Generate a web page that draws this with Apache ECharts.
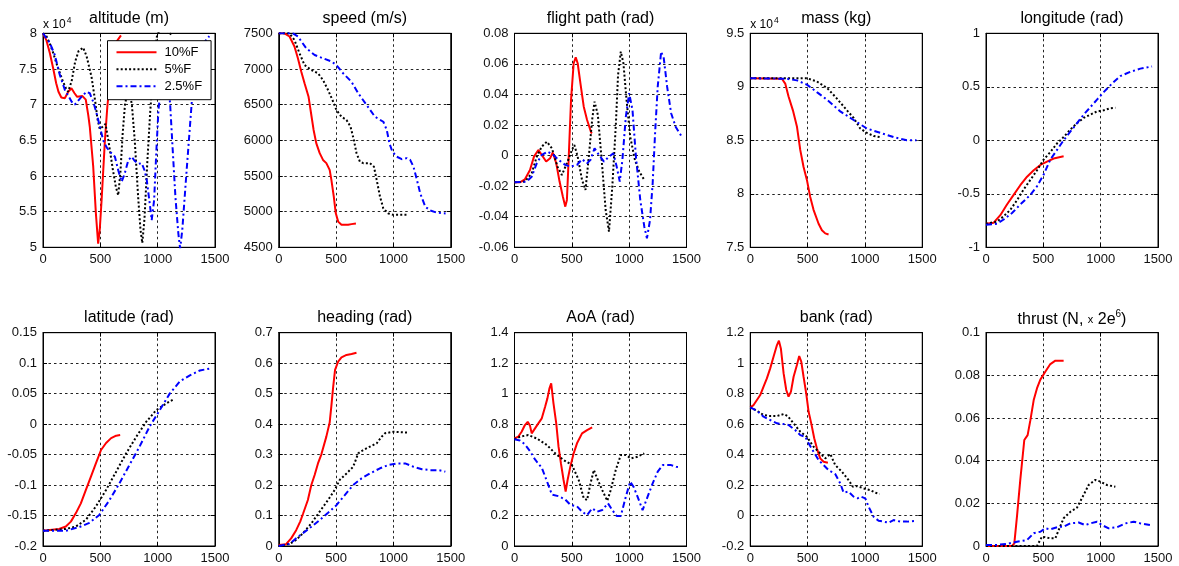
<!DOCTYPE html>
<html>
<head>
<meta charset="utf-8">
<script src="https://cdn.jsdelivr.net/npm/echarts@6/dist/echarts.min.js"></script>
<style>
html,body{margin:0;padding:0;background:#fff;}
#chart{width:1179px;height:566px;}
</style>
</head>
<body>
<div id="chart"></div>
<script>
// ---------------- DATA ----------------
const seriesNames = ['10%F', '5%F', '2.5%F'];
const xTicks = {min: 0, max: 1500, interval: 500};

// altitude (m)
const altRed = [[0,80000],[30,79000],[60,77200],[90,75000],[115,73000],[135,71800],[160,71000],[190,70900],[220,71800],[248,72300],[275,71600],[298,71100],[344,71200],[373,70700],[395,68500],[408,66900],[438,61300],[461,54800],[481,50500],[495,52500],[511,56600],[540,65000],[561,69700],[600,76000],[640,78800],[680,79700]];
const altBlack = [[0,80000],[30,79600],[58,78600],[90,77200],[117,75800],[150,74300],[175,73200],[200,72300],[219,71800],[250,73300],[280,76000],[310,77500],[350,78000],[380,76800],[423,73900],[455,70500],[475,68000],[495,66600],[520,66900],[545,67300],[575,64500],[610,60800],[635,58500],[656,57300],[675,60500],[695,66000],[715,70000],[745,72500],[775,70000],[800,65000],[830,57000],[850,52500],[866,50600],[885,54000],[910,62000],[935,69000],[965,75500],[995,79800],[1040,80800],[1090,80300],[1130,79600]];
const altBlue = [[0,80000],[30,79300],[58,78700],[102,77000],[146,74200],[190,72100],[219,71300],[250,70400],[277,70000],[305,70500],[335,71100],[379,71800],[408,71600],[440,70300],[467,68800],[495,67000],[525,65000],[555,64000],[584,63400],[627,62700],[656,60800],[686,59200],[710,60200],[744,62200],[773,62700],[800,62100],[835,61700],[861,61800],[885,60800],[905,59400],[928,56500],[948,53800],[969,56600],[990,64000],[1007,69300],[1036,73500],[1065,75500],[1090,73500],[1109,70000],[1130,64000],[1155,57000],[1180,52000],[1196,49800],[1215,52500],[1255,61300],[1299,70700],[1342,76300],[1400,78600],[1450,79600]];

// speed (m/s)
const spdRed = [[0,7500],[50,7500],[94,7455],[137,7315],[167,7150],[196,6965],[225,6800],[260,6610],[284,6355],[304,6145],[327,5960],[357,5820],[386,5725],[415,5680],[444,5585],[459,5445],[480,5210],[497,4980],[518,4860],[547,4815],[605,4815],[634,4825],[673,4835]];
const spdBlack = [[0,7500],[94,7500],[137,7405],[181,7220],[225,7055],[284,6985],[342,6940],[386,6845],[430,6705],[468,6565],[503,6425],[547,6330],[591,6285],[626,6190],[655,6005],[678,5820],[708,5700],[737,5680],[795,5680],[830,5630],[854,5445],[883,5210],[912,5045],[956,4975],[1000,4955],[1058,4955],[1132,4955]];
const spdBlue = [[0,7500],[123,7500],[167,7455],[240,7290],[313,7195],[386,7150],[459,7105],[503,7055],[561,6940],[635,6820],[693,6660],[766,6495],[839,6330],[912,6260],[942,6145],[965,5960],[991,5840],[1029,5770],[1073,5735],[1117,5750],[1146,5725],[1175,5630],[1205,5445],[1234,5255],[1278,5070],[1322,5015],[1380,4985],[1455,4975]];

// flight path (rad)
const fpRed = [[0,-0.0175],[47,-0.0175],[91,-0.0155],[135,-0.0094],[170,-0.0007],[208,0.0037],[238,0.0004],[276,-0.0039],[311,-0.0017],[334,0.002],[364,-0.005],[393,-0.017],[422,-0.0269],[443,-0.0334],[457,-0.029],[472,-0.0028],[493,0.0364],[516,0.0604],[534,0.0643],[551,0.0604],[575,0.0473],[604,0.032],[633,0.0233],[669,0.015],[677,0.0146]];
const fpBlack = [[0,-0.0175],[91,-0.017],[150,-0.0116],[194,-0.0007],[238,0.0059],[282,0.0091],[326,0.0048],[375,-0.0072],[413,-0.0127],[457,-0.005],[501,0.0037],[522,0.0069],[551,-0.0007],[589,-0.016],[619,-0.0225],[648,-0.0007],[677,0.0233],[698,0.0353],[727,0.0266],[765,-0.0072],[795,-0.0356],[824,-0.0498],[853,-0.0203],[883,0.0189],[903,0.0527],[927,0.068],[950,0.0604],[977,0.0364],[1009,0.0124],[1050,-0.0028],[1088,-0.0105],[1132,-0.0159]];
const fpBlue = [[0,-0.0175],[106,-0.017],[150,-0.0138],[194,-0.0051],[238,0.0004],[287,0.0026],[340,0.0004],[384,-0.0028],[443,-0.0061],[487,-0.0072],[545,-0.0061],[589,-0.0024],[633,-0.005],[663,-0.0028],[698,0.0048],[736,0.0004],[780,-0.0039],[824,-0.0007],[862,0.0015],[891,-0.0072],[918,-0.017],[941,-0.0028],[971,0.0255],[1000,0.0408],[1029,0.0298],[1059,-0.0007],[1097,-0.0291],[1132,-0.0465],[1155,-0.0541],[1182,-0.0421],[1205,-0.0181],[1226,0.0146],[1249,0.0451],[1279,0.068],[1302,0.0636],[1331,0.0451],[1366,0.0277],[1405,0.0189],[1430,0.0157],[1455,0.0128]];

// mass (kg)
const massRed = [[0,90800],[276,90750],[305,90300],[334,89100],[372,87800],[407,86300],[436,84100],[465,82500],[494,81300],[523,79700],[552,78500],[596,77200],[625,76600],[654,76300],[683,76200]];
const massBlack = [[0,90800],[494,90800],[581,90500],[669,89900],[756,88900],[843,87800],[901,87100],[959,86100],[1017,85700],[1076,85400],[1134,85300]];
const massBlue = [[0,90800],[320,90750],[407,90600],[494,90200],[581,89500],[669,88800],[785,87700],[901,86900],[1017,86100],[1134,85700],[1250,85300],[1366,85000],[1450,85000]];

// longitude (rad)
const lonRed = [[0,-0.78],[67,-0.77],[125,-0.70],[183,-0.60],[241,-0.51],[299,-0.42],[358,-0.34],[416,-0.28],[474,-0.23],[532,-0.20],[590,-0.17],[677,-0.15]];
const lonBlack = [[0,-0.78],[96,-0.76],[154,-0.71],[212,-0.65],[270,-0.56],[328,-0.46],[387,-0.37],[445,-0.28],[503,-0.18],[561,-0.11],[619,-0.03],[677,0.03],[735,0.10],[794,0.16],[852,0.21],[910,0.24],[968,0.27],[1026,0.28],[1084,0.30],[1128,0.305]];
const lonBlue = [[0,-0.79],[96,-0.78],[154,-0.74],[227,-0.68],[299,-0.60],[387,-0.51],[445,-0.43],[503,-0.32],[561,-0.18],[619,-0.09],[677,0.00],[735,0.08],[794,0.16],[852,0.24],[910,0.31],[968,0.38],[1026,0.45],[1099,0.53],[1172,0.60],[1259,0.64],[1346,0.67],[1448,0.69]];

// latitude (rad)
const latRed = [[0,-0.175],[140,-0.172],[199,-0.168],[243,-0.160],[287,-0.146],[330,-0.130],[374,-0.108],[418,-0.086],[462,-0.064],[506,-0.0425],[550,-0.031],[594,-0.023],[638,-0.019],[673,-0.018]];
const latBlack = [[0,-0.175],[199,-0.172],[287,-0.168],[374,-0.157],[462,-0.135],[550,-0.108],[638,-0.078],[725,-0.048],[813,-0.021],[901,0.004],[988,0.023],[1076,0.034],[1134,0.040]];
const latBlue = [[0,-0.175],[199,-0.175],[316,-0.169],[404,-0.162],[491,-0.149],[579,-0.125],[667,-0.097],[754,-0.067],[842,-0.037],[930,-0.004],[1018,0.023],[1105,0.050],[1193,0.070],[1281,0.080],[1368,0.088],[1450,0.091]];

// heading (rad)
const hdgRed = [[0,0.003],[64,0.006],[108,0.025],[152,0.052],[187,0.08],[211,0.105],[254,0.151],[284,0.2],[313,0.233],[342,0.271],[371,0.3],[415,0.359],[444,0.405],[459,0.46],[474,0.52],[491,0.578],[518,0.605],[547,0.619],[591,0.627],[635,0.63],[678,0.634]];
const hdgBlack = [[0,0],[94,0.007],[152,0.02],[211,0.042],[284,0.074],[357,0.113],[430,0.151],[488,0.184],[532,0.217],[591,0.238],[649,0.26],[693,0.304],[737,0.315],[795,0.326],[854,0.337],[898,0.359],[927,0.37],[1000,0.375],[1137,0.372]];
const hdgBlue = [[0,0],[94,0.007],[152,0.025],[211,0.042],[284,0.063],[357,0.085],[430,0.109],[503,0.134],[576,0.167],[649,0.2],[722,0.222],[795,0.238],[883,0.255],[956,0.266],[1029,0.271],[1102,0.271],[1175,0.26],[1249,0.252],[1322,0.249],[1395,0.249],[1453,0.244]];

// AoA (rad)
const aoaRed = [[0,0.706],[32,0.717],[62,0.75],[91,0.794],[115,0.815],[135,0.79],[150,0.739],[179,0.772],[208,0.805],[238,0.838],[267,0.914],[287,0.969],[305,1.035],[320,1.067],[340,0.936],[364,0.805],[384,0.652],[405,0.542],[428,0.433],[446,0.357],[463,0.433],[487,0.521],[516,0.608],[545,0.674],[589,0.739],[633,0.761],[677,0.779]];
const aoaBlack = [[0,0.7],[47,0.717],[120,0.728],[194,0.706],[282,0.663],[355,0.608],[428,0.564],[501,0.532],[560,0.433],[604,0.313],[633,0.302],[663,0.411],[692,0.499],[721,0.444],[765,0.367],[809,0.297],[839,0.367],[883,0.499],[927,0.597],[971,0.597],[1015,0.575],[1073,0.586],[1132,0.608]];
const aoaBlue = [[0,0.7],[47,0.693],[91,0.667],[135,0.623],[179,0.568],[238,0.513],[282,0.427],[326,0.338],[384,0.327],[443,0.305],[487,0.27],[545,0.26],[589,0.225],[633,0.203],[677,0.247],[721,0.225],[765,0.236],[815,0.28],[853,0.236],[891,0.197],[927,0.197],[971,0.324],[1009,0.422],[1038,0.389],[1073,0.324],[1117,0.236],[1161,0.324],[1205,0.411],[1249,0.488],[1293,0.531],[1366,0.531],[1410,0.52],[1450,0.517]];

// bank (rad)
const bankRed = [[0,0.71],[29,0.725],[58,0.758],[87,0.791],[116,0.846],[145,0.9],[174,0.966],[203,1.042],[233,1.119],[250,1.147],[267,1.097],[291,0.933],[314,0.824],[334,0.78],[355,0.813],[378,0.911],[407,0.988],[427,1.047],[445,1.01],[465,0.911],[488,0.802],[509,0.681],[532,0.605],[558,0.507],[581,0.441],[610,0.375],[640,0.353],[677,0.347]];
const bankBlack = [[0,0.71],[58,0.688],[116,0.66],[174,0.653],[233,0.653],[291,0.666],[326,0.653],[378,0.605],[436,0.55],[494,0.517],[552,0.452],[610,0.408],[654,0.375],[698,0.404],[741,0.331],[799,0.288],[857,0.233],[895,0.189],[930,0.194],[988,0.178],[1047,0.167],[1090,0.15],[1128,0.141]];
const bankBlue = [[0,0.71],[58,0.688],[116,0.649],[174,0.627],[233,0.605],[291,0.6],[334,0.594],[392,0.561],[436,0.528],[480,0.517],[509,0.474],[552,0.419],[596,0.364],[640,0.331],[683,0.298],[741,0.272],[785,0.211],[814,0.15],[857,0.157],[901,0.124],[936,0.113],[965,0.124],[1003,0.113],[1032,0.058],[1076,-0.008],[1119,-0.034],[1163,-0.04],[1206,-0.047],[1250,-0.03],[1308,-0.04],[1366,-0.04],[1450,-0.034]];

// thrust (N, x 2e6)
const thrRed = [[0,0],[227,0],[247,0.0012],[270,0.0138],[299,0.031],[334,0.0497],[363,0.052],[387,0.059],[416,0.0684],[445,0.074],[474,0.078],[517,0.0817],[561,0.0853],[605,0.0869],[677,0.0869]];
const thrBlack = [[0,0],[445,0],[488,0.0044],[503,0.0036],[561,0.0036],[605,0.0036],[634,0.0075],[677,0.013],[735,0.016],[794,0.018],[852,0.024],[895,0.0286],[954,0.031],[997,0.0302],[1055,0.0286],[1128,0.0278]];
const thrBlue = [[0,0.0005],[96,0.0005],[183,0.001],[270,0.002],[358,0.0028],[416,0.006],[474,0.0067],[517,0.0083],[561,0.0078],[634,0.009],[677,0.009],[735,0.0106],[808,0.011],[866,0.0098],[910,0.0106],[968,0.0114],[1012,0.0098],[1070,0.0083],[1142,0.0088],[1215,0.0106],[1288,0.0114],[1346,0.0106],[1433,0.0098],[1450,0.0097]];

const panels = [
  {title: 'altitude (m)', min: 50000, max: 80000, interval: 5000, exp: true, data: [altRed, altBlack, altBlue]},
  {title: 'speed (m/s)', min: 4500, max: 7500, interval: 500, data: [spdRed, spdBlack, spdBlue]},
  {title: 'flight path (rad)', min: -0.06, max: 0.08, interval: 0.02, data: [fpRed, fpBlack, fpBlue]},
  {title: 'mass (kg)', min: 75000, max: 95000, interval: 5000, exp: true, data: [massRed, massBlack, massBlue]},
  {title: 'longitude (rad)', min: -1, max: 1, interval: 0.5, data: [lonRed, lonBlack, lonBlue]},
  {title: 'latitude (rad)', min: -0.2, max: 0.15, interval: 0.05, data: [latRed, latBlack, latBlue]},
  {title: 'heading (rad)', min: 0, max: 0.7, interval: 0.1, data: [hdgRed, hdgBlack, hdgBlue]},
  {title: 'AoA (rad)', min: 0, max: 1.4, interval: 0.2, data: [aoaRed, aoaBlack, aoaBlue]},
  {title: 'bank (rad)', min: -0.2, max: 1.2, interval: 0.2, data: [bankRed, bankBlack, bankBlue]},
  {title: 'thrust', min: 0, max: 0.1, interval: 0.02, rich: true, data: [thrRed, thrBlack, thrBlue]}
];

// ---------------- STYLE / LAYOUT ----------------
const FONT = 'Liberation Sans, Arial, Helvetica, sans-serif';
const lineStyles = [
  {color: '#ff0000', width: 2, type: 'solid'},
  {color: '#000000', width: 2, type: [2, 2.2]},
  {color: '#0000ff', width: 2, type: [6, 3, 2, 3]}
];
const colLeft = [43, 278.75, 514.5, 750.25, 986];
const rowTop = [33.3, 332.7];
const rowH = [214, 213.3];
const W = 172;

const plain = v => String(parseFloat(Number(v).toPrecision(10)));
const grids = [], xAxes = [], yAxes = [], series = [], titles = [];

panels.forEach((p, i) => {
  const r = Math.floor(i / 5), c = i % 5;
  const L = colLeft[c], T = rowTop[r], H = rowH[r];
  grids.push({left: L, top: T, width: W, height: H, show: true, borderColor: '#000', borderWidth: 1, backgroundColor: '#fff'});
  const tick = {show: true, inside: true, length: 4, lineStyle: {color: '#000', width: 1}};
  const line = {show: true, onZero: false, lineStyle: {color: '#000', width: 1}};
  const split = {show: true, lineStyle: {color: '#222', width: 1, type: [2.5, 3]}};
  xAxes.push({gridIndex: i, type: 'value', position: 'bottom', min: xTicks.min, max: xTicks.max, interval: xTicks.interval,
    axisLine: line, axisTick: tick, splitLine: split,
    axisLabel: {margin: 6, fontSize: 13, color: '#111', fontFamily: FONT, formatter: plain}});
  xAxes.push({gridIndex: i, type: 'value', position: 'top', min: xTicks.min, max: xTicks.max, interval: xTicks.interval,
    axisLine: line, axisTick: tick, splitLine: {show: false}, axisLabel: {show: false}});
  const fmt = p.exp ? (v => plain(v / 10000)) : plain;
  yAxes.push({gridIndex: i, type: 'value', position: 'left', min: p.min, max: p.max, interval: p.interval,
    axisLine: line, axisTick: tick, splitLine: split,
    axisLabel: {margin: 6, fontSize: 13, color: '#111', fontFamily: FONT, formatter: fmt}});
  yAxes.push({gridIndex: i, type: 'value', position: 'right', min: p.min, max: p.max, interval: p.interval,
    axisLine: line, axisTick: tick, splitLine: {show: false}, axisLabel: {show: false}});

  p.data.forEach((d, k) => {
    series.push({type: 'line', name: seriesNames[k], xAxisIndex: 2 * i, yAxisIndex: 2 * i,
      data: d, symbol: 'none', showSymbol: false, lineStyle: lineStyles[k], itemStyle: {color: lineStyles[k].color},
      clip: true, animation: false, silent: true});
  });

  const tStyle = {fontSize: 16, fontWeight: 'normal', color: '#000', fontFamily: FONT};
  if (p.rich) {
    titles.push({text: 'thrust (N, {s|x} 2e{sup|6})', left: L + W / 2, top: T - 23, textAlign: 'center', padding: 0,
      textStyle: Object.assign({}, tStyle, {rich: {
        s: {fontSize: 11, fontWeight: 'normal', fontFamily: FONT, color: '#000', padding: [2, 0, 0, 0]},
        sup: {fontSize: 10, fontWeight: 'normal', fontFamily: FONT, color: '#000', padding: [0, 0, 9, 0]}
      }})});
  } else {
    titles.push({text: p.title, left: L + W / 2, top: T - 23, textAlign: 'center', padding: 0, textStyle: tStyle});
  }
  if (p.exp) {
    titles.push({text: '{a|x 10}{b|4}', left: L, top: T - 17, padding: 0,
      textStyle: {fontWeight: 'normal', rich: {
        a: {fontSize: 12, fontWeight: 'normal', fontFamily: FONT, color: '#000'},
        b: {fontSize: 8.5, fontWeight: 'normal', fontFamily: FONT, color: '#000', padding: [0, 0, 8, 1]}
      }}});
  }
});

const chart = echarts.init(document.getElementById('chart'), null, {renderer: 'canvas'});
chart.setOption({
  backgroundColor: '#fff',
  animation: false,
  title: titles,
  grid: grids,
  xAxis: xAxes,
  yAxis: yAxes,
  legend: {
    data: seriesNames, orient: 'vertical', left: 107.5, top: 40.7,
    itemWidth: 40, itemHeight: 14, itemGap: 4,
    padding: [5, 9, 7, 8],
    backgroundColor: '#fff', borderColor: '#000', borderWidth: 1,
    itemStyle: {opacity: 0, color: 'rgba(0,0,0,0)', borderWidth: 0},
    textStyle: {fontSize: 13, color: '#000', fontFamily: FONT, padding: [0, 0, 0, 3]},
    selectedMode: false, z: 10
  },
  series: series
});
</script>
</body>
</html>
